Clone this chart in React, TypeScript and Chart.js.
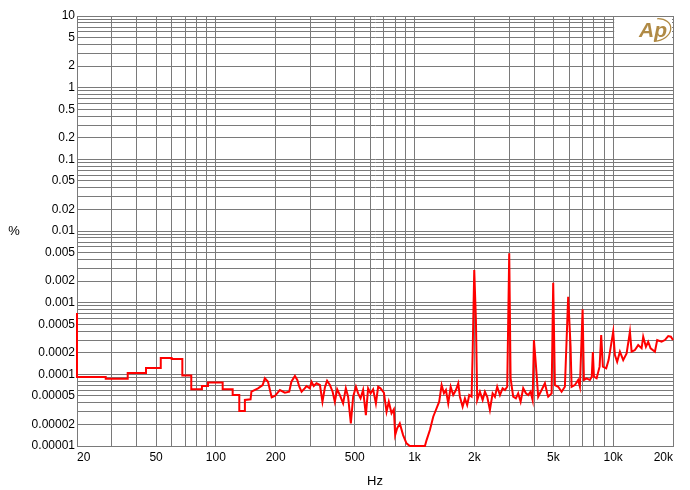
import { useEffect, useRef } from 'react';
import { Chart, registerables } from 'chart.js';

Chart.register(...registerables);

// Frequency (Hz) of each trace point
const freqHz = [
  20, 20, 27.9, 27.9, 36, 36, 44.5, 44.5, 52.8, 52.8, 59.9, 59.9, 67.8, 67.8, 75.2, 75.2,
  85.1, 85.1, 91.3, 91.3, 108.2, 108.2, 121.5, 121.5, 131.2, 131.2, 140, 140,
  149.5, 151, 163, 172, 176.5, 183, 191, 198, 210, 222.5, 234, 240, 250, 257, 263, 270,
  280, 286, 297, 303, 311, 321, 334, 344, 354, 363, 375, 387, 397, 408, 421, 437, 451,
  463, 478, 491, 507, 520, 535, 551, 569, 584, 601, 619, 639, 656, 674, 701, 723, 742,
  766, 787, 799, 817, 843, 876, 911, 947, 1128, 1150, 1195, 1242, 1281, 1331, 1369,
  1406, 1439, 1478, 1520, 1566, 1616, 1660, 1692, 1746, 1793, 1841, 1885, 1938, 1960,
  1998, 2037, 2068, 2134, 2202, 2261, 2322, 2396, 2472, 2539, 2607, 2691, 2776, 2851,
  2928, 2997, 3045, 3138, 3237, 3325, 3420, 3524, 3636, 3735, 3840, 3930, 3990, 4083,
  4193, 4362, 4532, 4654, 4708, 4898, 4989, 5089, 5287, 5499, 5713, 5935, 6103, 6173,
  6414, 6665, 6798, 7015, 7122, 7348, 7634, 7800, 7900, 8000, 8251, 8543, 8702, 8875,
  9222, 9481, 10000, 10200, 10470, 10810, 11230, 11680, 12140, 12380, 12860, 13360,
  13900, 14160, 14610, 15000, 15430, 16220, 16650, 17520, 18200, 18920, 19510, 20000,
];

// THD+N (%) at each trace point
const thdPct = [
  0.00072, 0.000092, 0.000092, 0.000087, 0.000087, 0.000104, 0.000104, 0.000123, 0.000123,
  0.000169, 0.000169, 0.000164, 0.000164, 0.000096, 0.000096, 0.000062,
  0.000062, 0.000069, 0.000069, 0.000077, 0.000077, 0.000062, 0.000062, 0.0000515, 0.0000515,
  0.0000308, 0.0000308, 0.000044,
  0.0000448, 0.0000572, 0.0000638, 0.0000709, 0.000088, 0.0000788, 0.0000478, 0.0000498,
  0.0000604, 0.0000554, 0.0000572, 0.0000788, 0.0000947, 0.0000833, 0.0000671, 0.0000572,
  0.0000638, 0.0000687, 0.0000638, 0.0000788, 0.0000687, 0.0000749, 0.0000709, 0.0000415,
  0.0000659, 0.0000814, 0.0000709, 0.0000572, 0.0000415, 0.0000618, 0.0000514, 0.0000394,
  0.0000638, 0.0000487, 0.0000207, 0.0000487, 0.0000671, 0.0000543, 0.0000462, 0.0000604,
  0.000027, 0.0000638, 0.0000543, 0.0000618, 0.0000394, 0.0000671, 0.0000638, 0.0000554,
  0.0000301, 0.0000415, 0.0000286, 0.0000325, 0.0000142, 0.0000176, 0.0000207, 0.0000142,
  0.0000109, 0.00001, 0.00001, 0.0000121, 0.0000167, 0.0000256, 0.0000318, 0.0000415,
  0.0000709, 0.0000543, 0.0000604, 0.0000394, 0.0000671, 0.0000514, 0.0000604, 0.0000749,
  0.0000487, 0.0000353, 0.0000462, 0.0000373, 0.0000514, 0.0000487, 0.000186,
  0.00285, 0.000572, 0.0000438, 0.0000572, 0.0000438, 0.0000572, 0.0000487, 0.0000318,
  0.0000543, 0.0000487, 0.0000671, 0.0000514, 0.0000638, 0.0000604,
  0.0000671, 0.00488, 0.000088, 0.0000487, 0.0000462, 0.0000543, 0.0000415, 0.0000638,
  0.0000543, 0.0000514, 0.0000572, 0.0000438, 0.000301, 0.000135,
  0.0000487, 0.0000604, 0.0000749, 0.0000543, 0.0000487, 0.0000543, 0.0019, 0.0000709,
  0.0000671, 0.0000572, 0.0000671, 0.00121, 0.000243, 0.0000671,
  0.0000709, 0.0000833, 0.0000671, 0.000807, 0.0000833, 0.000088, 0.0000833, 0.0000926,
  0.000205, 0.0000926, 0.000088, 0.000128, 0.000353, 0.000128,
  0.000121, 0.000158, 0.000393, 0.000186, 0.00015, 0.000207, 0.000158, 0.000196, 0.000393,
  0.000207, 0.000218, 0.000256,
  0.000231, 0.000335, 0.000243, 0.000285, 0.000231, 0.000207, 0.000301, 0.000285, 0.000301,
  0.000342, 0.000335, 0.000301,
];

const xTickValues = [20, 50, 100, 200, 500, 1000, 2000, 5000, 10000, 20000];
const xTickLabels = ['20', '50', '100', '200', '500', '1k', '2k', '5k', '10k', '20k'];
const yTickValues = [10, 5, 2, 1, 0.5, 0.2, 0.1, 0.05, 0.02, 0.01, 0.005, 0.002, 0.001,
  0.0005, 0.0002, 0.0001, 0.00005, 0.00002, 0.00001];
const yTickLabels = ['10', '5', '2', '1', '0.5', '0.2', '0.1', '0.05', '0.02', '0.01',
  '0.005', '0.002', '0.001', '0.0005', '0.0002', '0.0001', '0.00005', '0.00002', '0.00001'];

const X_MIN = 20;
const X_MAX = 20000;
const Y_MIN = 0.00001;
const Y_MAX = 10;

function gridValues(min: number, max: number): number[] {
  const out: number[] = [];
  for (let e = Math.floor(Math.log10(min)); e <= Math.ceil(Math.log10(max)); e++) {
    for (let m = 1; m <= 9; m++) {
      const v = parseFloat((m * Math.pow(10, e)).toPrecision(6));
      if (v >= min * 0.9999 && v <= max * 1.0001) out.push(v);
    }
  }
  return out;
}

function labelFor(v: number, vals: number[], labels: string[]): string {
  for (let i = 0; i < vals.length; i++) {
    if (Math.abs(v / vals[i] - 1) < 1e-6) return labels[i];
  }
  return '';
}

const FONT = '"Liberation Sans", Arial, sans-serif';

const decorPlugin = {
  id: 'decor',
  afterDraw(chart: any) {
    const ctx = chart.ctx as CanvasRenderingContext2D;
    const a = chart.chartArea;
    ctx.save();
    ctx.fillStyle = '#000';
    ctx.font = `13px ${FONT}`;
    ctx.textAlign = 'center';
    ctx.textBaseline = 'middle';
    ctx.fillText('%', 14, (a.top + a.bottom) / 2);
    ctx.fillText('Hz', (a.left + a.right) / 2, 481);

    // logo backdrop
    const x10k = chart.scales.x.getPixelForValue(10000);
    ctx.fillStyle = '#ffffff';
    ctx.fillRect(x10k + 1, a.top + 1, a.right - x10k - 2, 24);
    // logo
    ctx.fillStyle = '#b08a45';
    ctx.strokeStyle = '#b08a45';
    ctx.font = `italic bold 21px ${FONT}`;
    ctx.textAlign = 'center';
    ctx.fillText('Ap', 653, 31);
    ctx.lineWidth = 1.3;
    ctx.beginPath();
    ctx.ellipse(656, 30, 15, 11, -0.25, -1.3, 1.9);
    ctx.stroke();
    ctx.restore();
  },
};

export default function App() {
  const ref = useRef<HTMLCanvasElement | null>(null);

  useEffect(() => {
    if (!ref.current) return;
    const points = freqHz.map((f, i) => ({ x: f, y: thdPct[i] }));
    const xGrid = gridValues(X_MIN, X_MAX);
    const yGrid = gridValues(Y_MIN, Y_MAX);
    const chart = new Chart(ref.current, {
      type: 'line',
      data: {
        datasets: [
          {
            data: points,
            borderColor: '#ff0000',
            borderWidth: 2,
            pointRadius: 0,
            tension: 0,
            fill: false,
            clip: 3,
          },
        ],
      },
      options: {
        responsive: false,
        animation: false,
        devicePixelRatio: 1,
        layout: { padding: { top: 16, right: 17, left: 0, bottom: 0 } },
        plugins: { legend: { display: false }, tooltip: { enabled: false } },
        scales: {
          x: {
            type: 'logarithmic',
            min: X_MIN,
            max: X_MAX,
            afterBuildTicks: (s: any) => { s.ticks = xGrid.map((v) => ({ value: v })); },
            afterFit: (s: any) => { s.height = 44; },
            grid: { color: '#7a7a7a', lineWidth: 1, drawTicks: false },
            border: { display: true, color: '#7a7a7a', width: 1 },
            ticks: {
              autoSkip: false,
              maxRotation: 0,
              minRotation: 0,
              align: 'inner',
              padding: 4,
              color: '#000',
              font: { family: FONT, size: 12 },
              callback: (v: any) => labelFor(Number(v), xTickValues, xTickLabels),
            },
          },
          y: {
            type: 'logarithmic',
            min: Y_MIN,
            max: Y_MAX,
            afterBuildTicks: (s: any) => { s.ticks = yGrid.map((v) => ({ value: v })); },
            afterFit: (s: any) => { s.width = 77; },
            grid: { color: '#7a7a7a', lineWidth: 1, drawTicks: false },
            border: { display: true, color: '#7a7a7a', width: 1 },
            ticks: {
              autoSkip: false,
              padding: 2,
              color: '#000',
              font: { family: FONT, size: 12 },
              callback: (v: any) => labelFor(Number(v), yTickValues, yTickLabels),
            },
          },
        },
      },
      plugins: [decorPlugin],
    });
    return () => chart.destroy();
  }, []);

  return (
    <div style={{ position: 'absolute', left: 0, top: 0, width: 690, height: 490, background: '#fff' }}>
      <canvas ref={ref} width={690} height={490} style={{ display: 'block' }} />
    </div>
  );
}
